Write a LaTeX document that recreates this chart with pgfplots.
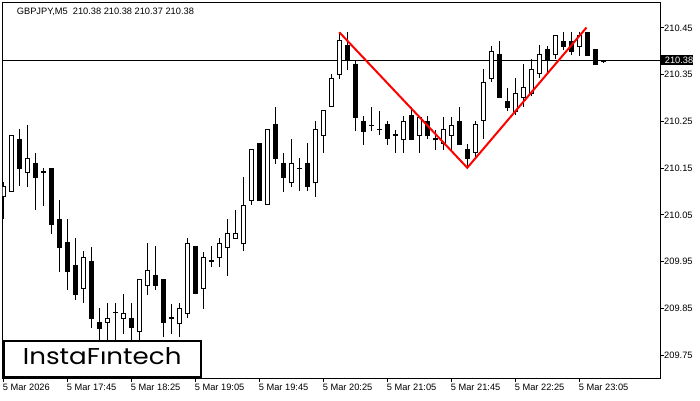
\documentclass[border=0pt]{standalone}
\usepackage{fontspec}
\setmainfont{Liberation Sans}
\newfontfamily\logofont{Poppins}
\usepackage{pgfplots}
\usepackage{pgfplotstable}
\pgfplotsset{compat=1.18}

% GBPJPY M5 candles, k = bar index from 17:05
\pgfplotstableread{
k o h l c
0 210.092 210.122 210.042 210.113
1 210.102 210.222 210.102 210.222
2 210.213 210.233 210.111 210.151
3 210.142 210.243 210.111 210.172
4 210.161 210.183 210.061 210.131
5 210.143 210.151 210.070 210.143
6 210.151 210.151 210.011 210.031
7 210.042 210.083 209.929 209.982
8 209.990 210.042 209.890 209.929
9 209.942 210.001 209.869 209.880
10 209.892 209.972 209.862 209.960
11 209.952 209.983 209.808 209.830
12 209.822 209.851 209.770 209.809
13 209.822 209.862 209.770 209.830
14 209.842 209.862 209.770 209.842
15 209.830 209.882 209.797 209.840
16 209.830 209.863 209.780 209.810
17 209.800 209.912 209.780 209.912
18 209.900 209.991 209.879 209.931
19 209.922 209.983 209.890 209.900
20 209.912 209.912 209.790 209.820
21 209.831 209.862 209.797 209.831
22 209.820 209.862 209.790 209.851
23 209.840 210.001 209.830 209.990
24 209.983 209.983 209.881 209.881
25 209.892 209.972 209.851 209.960
26 209.952 209.983 209.939 209.952
27 209.960 210.001 209.939 209.990
28 209.982 210.042 209.921 210.011
29 210.001 210.061 210.001 210.011
30 209.990 210.132 209.975 210.071
31 210.083 210.191 210.072 210.191
32 210.203 210.203 210.081 210.081
33 210.072 210.233 210.072 210.233
34 210.243 210.281 210.161 210.172
35 210.161 210.183 210.101 210.131
36 210.120 210.213 210.111 210.161
37 210.151 210.172 210.101 210.151
38 210.161 210.203 210.101 210.111
39 210.120 210.252 210.090 210.233
40 210.220 210.273 210.183 210.273
41 210.281 210.353 210.281 210.343
42 210.352 210.442 210.343 210.423
43 210.413 210.442 210.361 210.383
44 210.374 210.383 210.231 210.261
45 210.252 210.263 210.201 210.231
46 210.243 210.281 210.231 210.243
47 210.233 210.273 210.222 210.233
48 210.243 210.252 210.201 210.213
49 210.222 210.231 210.183 210.222
50 210.213 210.263 210.183 210.252
51 210.263 210.281 210.210 210.213
52 210.222 210.261 210.183 210.261
53 210.252 210.263 210.213 210.222
54 210.213 210.233 210.191 210.213
55 210.203 210.261 210.191 210.233
56 210.222 210.261 210.191 210.243
57 210.252 210.281 210.201 210.203
58 210.191 210.203 210.154 210.172
59 210.183 210.252 210.172 210.243
60 210.252 210.363 210.213 210.333
61 210.343 210.413 210.335 210.402
62 210.393 210.423 210.302 210.302
63 210.292 210.322 210.272 210.280
64 210.272 210.343 210.265 210.311
65 210.302 210.374 210.281 210.322
66 210.311 210.383 210.305 210.363
67 210.353 210.413 210.343 210.393
68 210.404 210.413 210.354 210.383
69 210.393 210.434 210.385 210.434
70 210.423 210.442 210.402 210.411
71 210.423 210.442 210.393 210.402
72 210.411 210.442 210.392 210.434
73 210.442 210.442 210.392 210.392
74 210.404 210.404 210.373 210.373
75 210.380 210.383 210.376 210.380
}\candletab

% pattern line: left top, bottom, right top
\pgfplotstableread{
k p
42 210.441
58 210.151
72.9 210.451
}\shapetab

% current price
\pgfplotstableread{
k p
-1 210.38
90 210.38
}\pricetab

% y axis is drawn as price - 210 to keep TeX dimensions small
% picture origin = lower left corner of the plot frame
\begin{document}
\begin{tikzpicture}[x=1bp,y=1bp]
\path[use as bounding box] (-2.7,-22) rectangle (697.3,378);
\begin{axis}[
    scale only axis,
    width=657.3bp, height=375.3bp,
    xmin=-0.075, xmax=82.09,
    ymin=-0.2987, ymax=0.5041,
    axis line style={black, line width=1bp},
    xtick={0,8,16,24,32,40,48,56,64,72},
    xticklabels={5 Mar 2026,5 Mar 17:45,5 Mar 18:25,5 Mar 19:05,5 Mar 19:45,5 Mar 20:25,5 Mar 21:05,5 Mar 21:45,5 Mar 22:25,5 Mar 23:05},
    ytick={-0.25,-0.15,-0.05,0.05,0.15,0.25,0.35,0.45},
    yticklabels={209.75,209.85,209.95,210.05,210.15,210.25,210.35,210.45},
    xtick pos=left, ytick pos=right,
    yticklabel pos=right,
    tick align=outside,
    major tick length=4bp,
    tick style={black, line width=1bp},
    tick label style={font=\fontsize{9.3}{10}\selectfont},
    xticklabel style={anchor=north west, inner sep=0pt, xshift=-0.6bp, yshift=-2bp},
    yticklabel style={anchor=west, inner sep=0pt},
]
% current price line
\addplot[black, line width=1bp] table[x=k, y expr={\thisrow{p}-210}] {\pricetab};

% wicks
\addplot[draw=none, error bars/.cd, y dir=both, y explicit, error mark=none,
    error bar style={draw=black, line width=1bp}]
  table[x=k, y expr={(\thisrow{h}+\thisrow{l})/2-210}, y error expr={(\thisrow{h}-\thisrow{l})/2}] {\candletab};

% bodies, outline / bear fill
\addplot[draw=none, error bars/.cd, y dir=both, y explicit, error mark=none,
    error bar style={draw=black, line width=5bp}]
  table[x=k, y expr={(\thisrow{o}+\thisrow{c})/2-210}, y error expr={abs(\thisrow{c}-\thisrow{o})/2+0.00107}] {\candletab};

% bull bodies hollow
\addplot[draw=none, error bars/.cd, y dir=both, y explicit, error mark=none,
    error bar style={draw=white, line width=3bp}]
  table[x=k, y expr={\thisrow{c}>\thisrow{o} ? (\thisrow{o}+\thisrow{c})/2-210 : nan}, y error expr={max((\thisrow{c}-\thisrow{o})/2-0.00107,0)}] {\candletab};

% double bottom pattern
\addplot[red, line width=2bp] table[x=k, y expr={\thisrow{p}-210}] {\shapetab};
\end{axis}

% price tag
\node[anchor=west, fill=black, inner xsep=0pt, inner ysep=1.5bp, text width=33bp, align=right,
      font=\fontsize{9.3}{10}\selectfont, text=white] at (657.3,318) {210.38};

\node[anchor=base west, inner sep=0pt, font=\fontsize{9.3}{10}\selectfont] at (14,363.7)
  {GBPJPY,M5\ \ 210.38 210.38 210.37 210.38};

% logo
\draw[line width=2bp, fill=white] (1,1) rectangle (198.3,37);
\node[anchor=base, inner sep=0pt, font=\logofont\fontsize{23}{23}\selectfont] at (99.5,13.7)
  {\scalebox{1.14}[1]{InstaFıntech}};
\end{tikzpicture}
\end{document}
